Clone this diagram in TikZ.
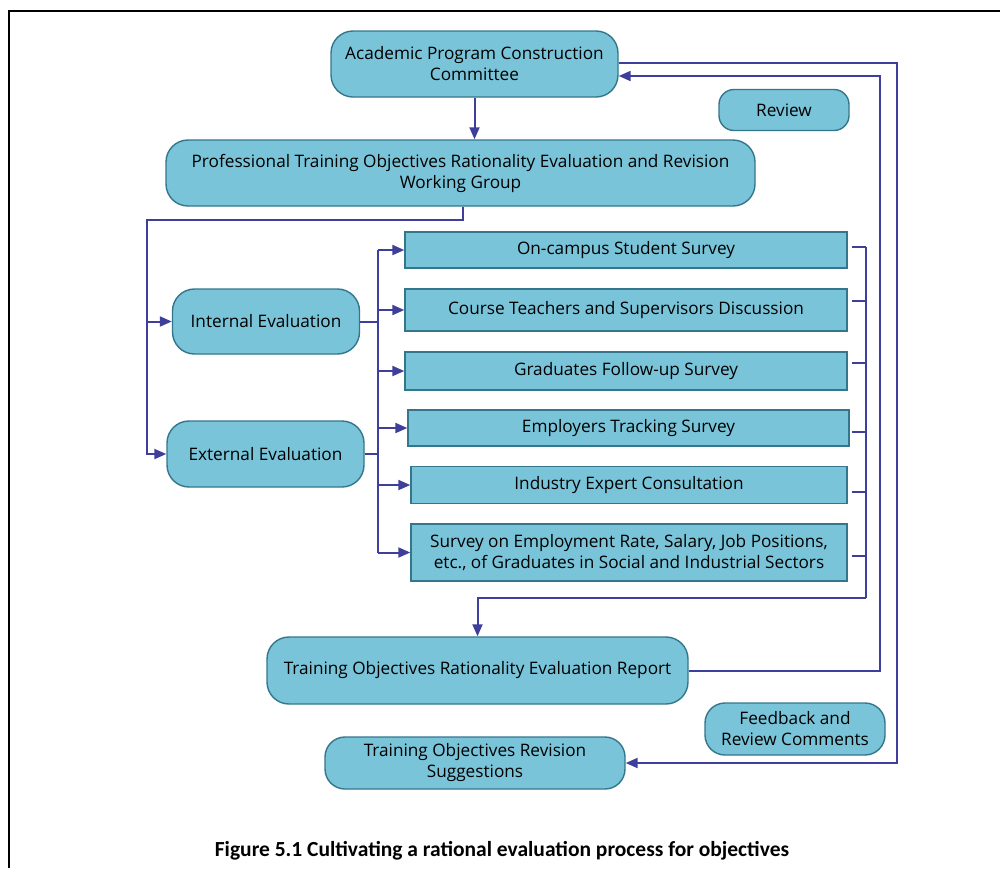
\documentclass[tikz,border=0pt]{standalone}
\usepackage{fontspec}
\setmainfont{Open Sans}
\newfontfamily\capfont{Carlito}
\usetikzlibrary{arrows.meta}
\definecolor{boxfill}{RGB}{121,196,217}
\definecolor{boxdraw}{RGB}{52,118,140}
\definecolor{linkcol}{RGB}{62,62,155}
\tikzset{
  rbox/.style={draw=boxdraw, fill=boxfill, line width=1.4pt, rounded corners=22pt, align=center, inner sep=0pt, font=\fontsize{17.2}{21}\selectfont},
  sbox/.style={draw=boxdraw, fill=boxfill, line width=1.4pt, align=center, inner sep=0pt, font=\fontsize{17.2}{20.5}\selectfont},
  link/.style={draw=linkcol, line width=2pt},
  arr/.style={link, -{Triangle[length=12pt,width=10pt]}},
}
\begin{document}
\begin{tikzpicture}[x=1pt,y=-1pt]
\useasboundingbox (0,0) rectangle (1000,868);
\fill[white] (0,0) rectangle (1000,868);
% frame
\draw[line width=2pt, black] (9,868) -- (9,11) -- (1000,11);

% nodes
\node[rbox, minimum width=287pt, minimum height=66pt] (acad) at (474.5,64) {Academic Program Construction\\Committee};
\node[rbox, rounded corners=15pt, minimum width=130pt, minimum height=41pt] (rev) at (784,110) {Review};
\node[rbox, minimum width=589pt, minimum height=66pt] (prof) at (460.5,173) {Professional Training Objectives Rationality Evaluation and Revision\\Working Group};
\node[rbox, minimum width=187pt, minimum height=65pt] (int) at (266,321.5) {Internal Evaluation};
\node[rbox, minimum width=197pt, minimum height=66pt] (ext) at (265.5,454) {External Evaluation};

\node[sbox, minimum width=442pt, minimum height=36pt] (os) at (626,250) {On-campus Student Survey};
\node[sbox, minimum width=442pt, minimum height=42pt] (ct) at (626,310) {Course Teachers and Supervisors Discussion};
\node[sbox, minimum width=442pt, minimum height=38pt] (gf) at (626,371) {Graduates Follow-up Survey};
\node[sbox, minimum width=441pt, minimum height=36pt] (et) at (628.5,428) {Employers Tracking Survey};
\node[sbox, minimum width=436pt, minimum height=37pt] (ie) at (629,485) {Industry Expert Consultation};
\node[sbox, minimum width=436pt, minimum height=57pt] (sv) at (629,552.5) {Survey on Employment Rate, Salary, Job Positions,\\etc., of Graduates in Social and Industrial Sectors};

\node[rbox, minimum width=421pt, minimum height=67pt] (rep) at (477.5,670.5) {Training Objectives Rationality Evaluation Report};
\node[rbox, rounded corners=20pt, minimum width=180pt, minimum height=52pt] (fb) at (795,729) {Feedback and\\Review Comments};
\node[rbox, rounded corners=20pt, minimum width=300pt, minimum height=52pt] (sug) at (475,763) {Training Objectives Revision\\Suggestions};

\node[font=\capfont\bfseries\fontsize{21.5}{24}\selectfont] (cap) at (502,851) {Figure 5.1 Cultivating a rational evaluation process for objectives};

% helper coordinates
\coordinate (lb) at (147,220);
\coordinate (bus) at (378,0);
\coordinate (rb) at (866,0);
\coordinate (rbot) at (866,598);
\coordinate (ox) at (897,0);
\coordinate (ix) at (880,0);

% connectors
\draw[arr] (acad.south) -- (acad.south |- prof.north);
\draw[arr] ([xshift=2pt]prof.south) |- (lb) |- (int.west);
\draw[arr] (lb) |- (ext.west);

\draw[link] (int.east) -- (int.east -| bus);
\draw[link] (ext.east) -- (ext.east -| bus);
\draw[link] (os.west -| bus) -- (sv.west -| bus);
\foreach \n in {os,ct,gf,et,ie,sv}{
  \draw[arr] (\n.west -| bus) -- (\n.west);
}

\foreach \n/\dy in {os/3,ct/9,gf/8,et/-4,ie/-7,sv/-3.5}{
  \draw[link, line width=1.6pt] ([xshift=4pt,yshift=\dy pt]\n.east -| os.east) -- ([yshift=\dy pt]\n.east -| rb);
}
\draw[link, line width=1.6pt] ([yshift=3pt]os.east -| rb) -- (rbot);
\draw[arr] (rbot) -| (rep.north);

\draw[arr] ([yshift=1pt]acad.east) -| (ox |- sug.east) -- (sug.east);
\draw[arr] (rep.east) -| (ix |- 0,76) -- ([yshift=-12pt]acad.east);
\end{tikzpicture}
\end{document}
